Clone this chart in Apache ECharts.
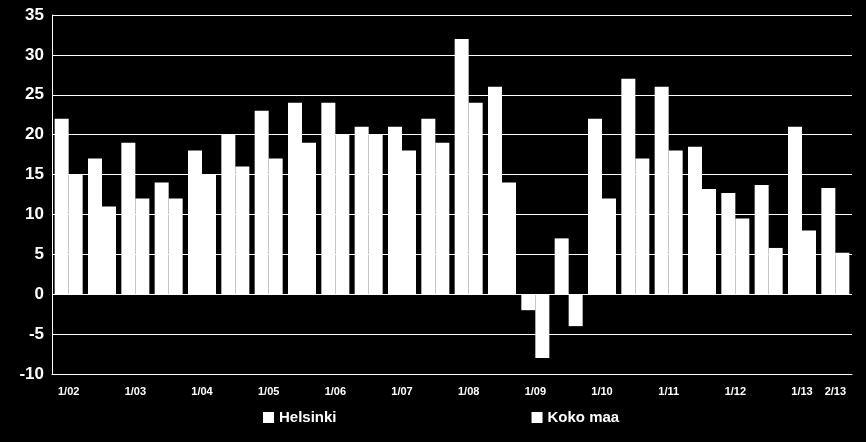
<!DOCTYPE html>
<html><head><meta charset="utf-8">
<script src="https://cdn.jsdelivr.net/npm/echarts@6/dist/echarts.min.js"></script>
<style>html,body{margin:0;background:#000}#c{width:866px;height:442px}</style>
</head><body><div id="c"></div>
<script>
const categories = ["1/02","","1/03","","1/04","","1/05","","1/06","","1/07","","1/08","","1/09","","1/10","","1/11","","1/12","","1/13","2/13"];
const helsinki = [22,17,19,14,18,20,23,24,24,21,21,22,32,26,-2,7,22,27,26,18.5,12.7,13.7,21,13.3];
const kokoMaa = [15,11,12,12,15,16,17,19,20,20,18,19,24,14,-8,-4,12,17,18,13.2,9.5,5.8,8,5.2];
const yTicks = {min:-10,max:35,interval:5};
const chart = echarts.init(document.getElementById('c'));
const font = 'Liberation Sans, Arial, sans-serif';
chart.setOption({
  backgroundColor:'#000',
  animation:false,
  grid:{left:52,right:14,top:15,bottom:68},
  legend:{bottom:12,left:258,itemGap:195,itemWidth:11,itemHeight:11,icon:'rect',
    textStyle:{color:'#fff',fontSize:15,fontWeight:'bold',fontFamily:font},
    data:['Helsinki','Koko maa']},
  xAxis:{type:'category',data:categories,
    axisLine:{onZero:false,lineStyle:{color:'#fff',width:1}},axisTick:{show:false},
    axisLabel:{interval:0,color:'#fff',fontSize:11,fontWeight:'bold',fontFamily:font,margin:12}},
  yAxis:{type:'value',min:yTicks.min,max:yTicks.max,interval:yTicks.interval,
    axisLine:{show:true,lineStyle:{color:'#fff'}},axisTick:{show:false},
    splitLine:{lineStyle:{color:'#fff',width:1}},
    axisLabel:{color:'#fff',fontSize:17,fontWeight:'bold',fontFamily:font,margin:8}},
  series:[
    {name:'Helsinki',type:'bar',data:helsinki,itemStyle:{color:'#fff'},barGap:'0%',barCategoryGap:'16%'},
    {name:'Koko maa',type:'bar',data:kokoMaa,itemStyle:{color:'#fff'}}
  ]
});
</script></body></html>
